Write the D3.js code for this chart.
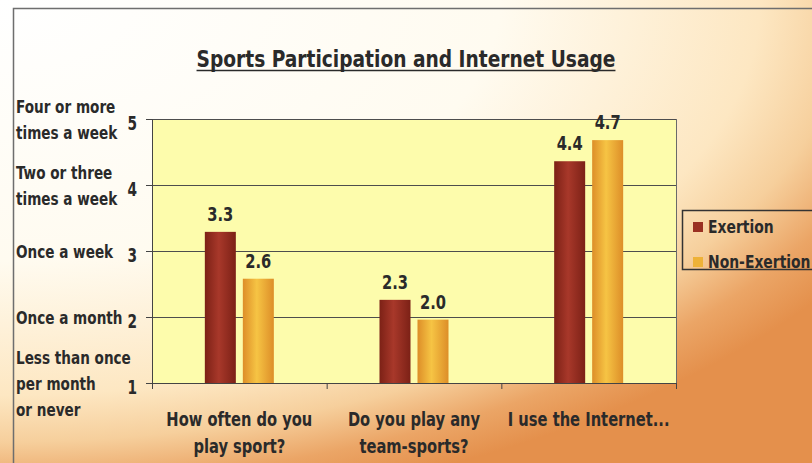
<!DOCTYPE html>
<html>
<head>
<meta charset="utf-8">
<script src="https://cdn.jsdelivr.net/npm/d3@7"></script>
<style>
  html, body { margin: 0; padding: 0; background: #fff; }
  svg { display: block; }
  text { font-family: "DejaVu Sans Condensed", "DejaVu Sans", sans-serif; font-weight: bold; fill: #2a2a2a; }
</style>
</head>
<body>
<svg id="chart" width="812" height="463"></svg>
<script>
// data
const categories = ["How often do you play sport?", "Do you play any team-sports?", "I use the Internet..."];
const categoryLines = [["How often do you", "play sport?"], ["Do you play any", "team-sports?"], ["I use the Internet..."]];
const series = ["Exertion", "Non-Exertion"];
const exertion = [3.29, 2.26, 4.36];
const nonExertion = [2.58, 1.96, 4.68];
const yTicks = [1, 2, 3, 4, 5];
const yTickNames = [
  ["Less than once", "per month", "or never"],
  ["Once a month"],
  ["Once a week"],
  ["Two or three", "times a week"],
  ["Four or more", "times a week"]
];
const title = "Sports Participation and Internet Usage";

const svg = d3.select("#chart");
const W = 812, H = 463;
const plot = { left: 152, right: 676, top: 119, bottom: 383 };
const K = 0.86; // 横方向に詰める (condensed font の代わり)

// グラデーション
const defs = svg.append("defs");
const bg = defs.append("radialGradient")
  .attr("id", "bgGrad")
  .attr("gradientUnits", "userSpaceOnUse")
  .attr("cx", 0).attr("cy", 0).attr("r", 1000)
  .attr("gradientTransform", "scale(1,0.52)");
[[0, "#ffffff"], [0.5, "#fffbf0"], [0.76, "#fde7c2"], [0.85, "#f6cf9c"],
 [0.93, "#eba566"], [1, "#e4904c"]].forEach(([o, c]) =>
  bg.append("stop").attr("offset", o).attr("stop-color", c));

function barGrad(id, edge, mid) {
  const g = defs.append("linearGradient").attr("id", id)
    .attr("x1", 0).attr("x2", 1).attr("y1", 0).attr("y2", 0);
  g.append("stop").attr("offset", 0).attr("stop-color", edge);
  g.append("stop").attr("offset", 0.45).attr("stop-color", mid);
  g.append("stop").attr("offset", 1).attr("stop-color", edge);
}
barGrad("gradEx", "#7c2116", "#a8382a");
barGrad("gradNon", "#dd8e28", "#f6c444");
const seriesFill = { "Exertion": "url(#gradEx)", "Non-Exertion": "url(#gradNon)" };
const swatchFill = { "Exertion": "#9a3022", "Non-Exertion": "#eeb238" };

svg.append("rect").attr("width", W).attr("height", H).attr("fill", "url(#bgGrad)");

// 外枠
svg.append("path")
  .attr("d", `M13.5,${H + 5}V8.5H${W + 5}`)
  .attr("fill", "none").attr("stroke", "#6e6e6e").attr("stroke-width", 1.5);

// タイトル
const TK = 0.9;
const titleText = svg.append("text")
  .attr("x", 406 / TK).attr("y", 67)
  .attr("transform", `scale(${TK},1)`)
  .attr("text-anchor", "middle")
  .style("font-size", "23px")
  .text(title);
const tb = titleText.node().getBBox();
svg.append("line")
  .attr("x1", tb.x * TK).attr("x2", (tb.x + tb.width) * TK)
  .attr("y1", 70.5).attr("y2", 70.5)
  .attr("stroke", "#2a2a2a").attr("stroke-width", 1.5);

// scales
const x = d3.scaleBand().domain(categories).range([plot.left, plot.right]);
const xInner = d3.scaleBand().domain(series)
  .range([x.bandwidth() / 2 - 34.5, x.bandwidth() / 2 + 34.5])
  .paddingInner(0.184);
const y = d3.scaleLinear().domain([1, 5]).range([plot.bottom, plot.top]);

// plot area
svg.append("rect")
  .attr("x", plot.left).attr("y", plot.top)
  .attr("width", plot.right - plot.left).attr("height", plot.bottom - plot.top)
  .attr("fill", "#fdfcac");

svg.append("g").selectAll("line")
  .data(yTicks.filter(d => d > 1))
  .join("line")
  .attr("x1", plot.left).attr("x2", plot.right)
  .attr("y1", d => Math.round(y(d)) + 0.5).attr("y2", d => Math.round(y(d)) + 0.5)
  .attr("stroke", "#4d4d4d").attr("stroke-width", 1);

svg.append("line")
  .attr("x1", plot.right + 0.5).attr("x2", plot.right + 0.5)
  .attr("y1", plot.top).attr("y2", plot.bottom)
  .attr("stroke", "#6a6a6a");

// bars
const rows = categories.map((c, i) => ({ cat: c, vals: [exertion[i], nonExertion[i]] }));
const groups = svg.append("g").selectAll("g")
  .data(rows)
  .join("g")
  .attr("transform", d => `translate(${x(d.cat)},0)`);
const bars = groups.selectAll("g")
  .data(d => series.map((s, j) => ({ s: s, v: d.vals[j] })))
  .join("g");
bars.append("rect")
  .attr("x", d => xInner(d.s))
  .attr("y", d => y(d.v))
  .attr("width", xInner.bandwidth())
  .attr("height", d => y(1) - y(d.v))
  .attr("fill", d => seriesFill[d.s]);
bars.append("text")
  .attr("transform", `scale(${K},1)`)
  .attr("x", d => (xInner(d.s) + xInner.bandwidth() / 2) / K)
  .attr("y", d => y(d.v) - 11)
  .attr("text-anchor", "middle")
  .style("font-size", "19px")
  .text(d => d3.format(".1f")(d.v));

// axes
const yAxis = svg.append("g")
  .attr("transform", `translate(${plot.left},0)`)
  .call(d3.axisLeft(y).tickValues(yTicks).tickSize(6).tickPadding(10).tickFormat(d3.format("d")));
yAxis.select(".domain").attr("stroke", "#444");
yAxis.selectAll(".tick line").attr("stroke", "#444");
yAxis.selectAll(".tick text")
  .attr("dy", "0.55em")
  .attr("x", -15 / 0.8)
  .attr("transform", "scale(0.8,1)")
  .attr("font-family", null)
  .attr("font-size", null)
  .style("font-size", "19px");

const xAxis = svg.append("g")
  .attr("transform", `translate(0,${plot.bottom})`)
  .call(d3.axisBottom(x).tickSize(0).tickFormat(""));
xAxis.select(".domain").attr("stroke", "#444");
svg.append("g").selectAll("line")
  .data(categories.map(c => x(c)).concat([plot.right]))
  .join("line")
  .attr("x1", d => d + 0.5).attr("x2", d => d + 0.5)
  .attr("y1", plot.bottom).attr("y2", plot.bottom + 6)
  .attr("stroke", "#444");

// category labels
svg.append("g").selectAll("text")
  .data(categories)
  .join("text")
  .attr("transform", `scale(${K},1)`)
  .attr("text-anchor", "middle")
  .style("font-size", "19px")
  .each(function (c, i) {
    d3.select(this).selectAll("tspan")
      .data(categoryLines[i])
      .join("tspan")
      .attr("x", (x(c) + x.bandwidth() / 2) / K)
      .attr("y", (d, k) => 426 + k * 27)
      .text(d => d);
  });

// frequency labels on the left
const KL = 0.84;
svg.append("g").selectAll("text")
  .data(yTicks)
  .join("text")
  .attr("transform", `scale(${KL},1)`)
  .style("font-size", "18px")
  .each(function (v, i) {
    const lines = yTickNames[i];
    d3.select(this).selectAll("tspan")
      .data(lines)
      .join("tspan")
      .attr("x", 16 / KL)
      .attr("y", (d, k) => y(v) + 7 + (k - (lines.length - 1) / 2) * 26)
      .text(d => d);
  });

// legend
const legend = svg.append("g");
legend.append("rect")
  .attr("x", 682.5).attr("y", 210.5)
  .attr("width", 150).attr("height", 59)
  .attr("fill", "none").attr("stroke", "#333").attr("stroke-width", 1.5);
const li = legend.selectAll("g.item")
  .data(series)
  .join("g")
  .attr("class", "item")
  .attr("transform", (d, i) => `translate(693,${222 + i * 35})`);
li.append("rect")
  .attr("width", 10).attr("height", 10)
  .attr("fill", d => swatchFill[d]);
li.append("text")
  .attr("transform", `translate(15,11) scale(${K},1)`)
  .style("font-size", "18px")
  .text(d => d);
</script>
</body>
</html>
